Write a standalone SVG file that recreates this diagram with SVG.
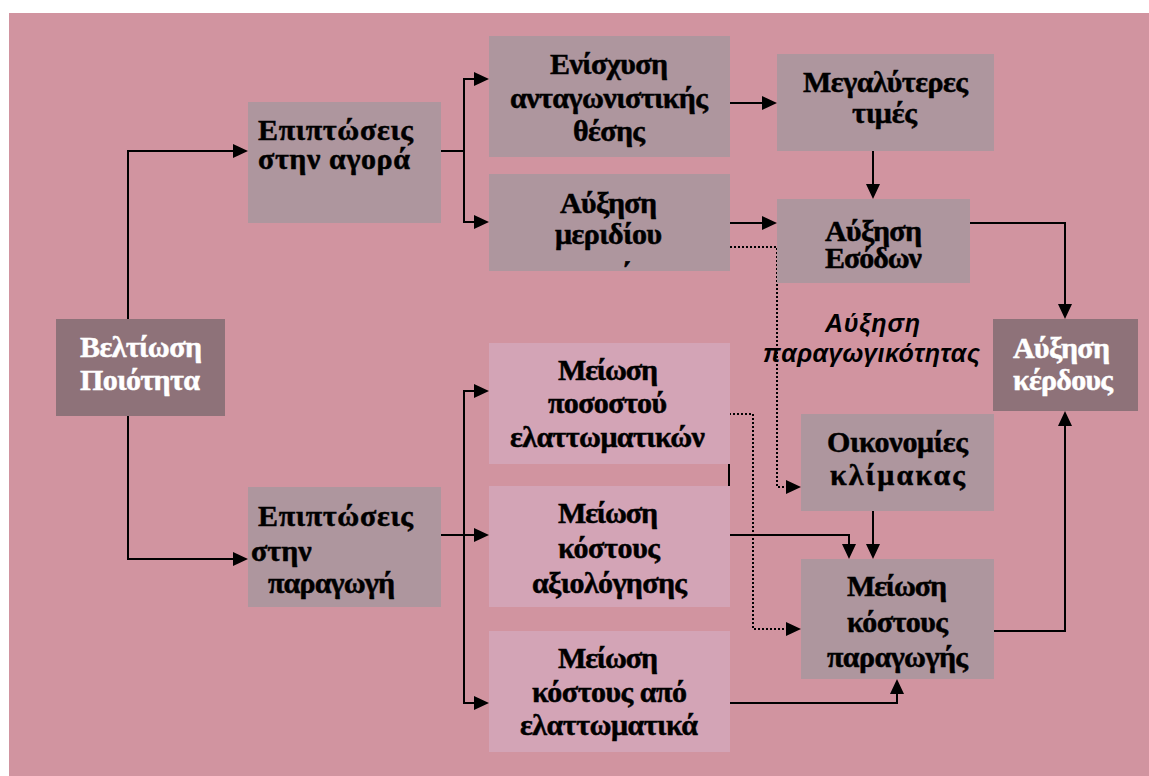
<svg xmlns="http://www.w3.org/2000/svg" width="1149" height="776" viewBox="0 0 1149 776">
  <defs>
    <marker id="arrow" viewBox="0 0 15 14" refX="5" refY="7" markerWidth="15" markerHeight="14" markerUnits="userSpaceOnUse" orient="auto">
      <path d="M0,0 L15,7 L0,14 z" fill="#000"/>
    </marker>
    <style>
      .box-gray { fill: #AE969E; }
      .box-dark { fill: #8E7279; }
      .box-light { fill: #D3A4B6; }
      .t { font-family: "Liberation Serif", "Times New Roman", serif; font-weight: bold; font-size: 30px; fill: #000; stroke: #000; stroke-width: 0.5px; }
      .tw { font-family: "Liberation Serif", "Times New Roman", serif; font-weight: bold; font-size: 30px; fill: #fff; stroke: #fff; stroke-width: 0.5px; }
      .lbl { font-family: "Liberation Sans", Arial, sans-serif; font-weight: bold; font-style: italic; font-size: 25px; fill: #000; }
      .ln { fill: none; stroke: #000; stroke-width: 2; }
      .dot { fill: none; stroke: #000; stroke-width: 2; stroke-dasharray: 2 2; }
    </style>
  </defs>

  <rect x="0" y="0" width="1149" height="776" fill="#fff"/>
  <rect x="9" y="13" width="1140" height="763" fill="#D194A0"/>

  <!-- connectors -->
  <g id="connectors">
    <path class="ln" d="M128,319 V151 H238" marker-end="url(#arrow)"/>
    <path class="ln" d="M128,416 V559 H238" marker-end="url(#arrow)"/>

    <path class="ln" d="M441,151 H464 V79 H479" marker-end="url(#arrow)"/>
    <path class="ln" d="M464,151 V222 H479" marker-end="url(#arrow)"/>

    <path class="ln" d="M730,103 H767" marker-end="url(#arrow)"/>
    <path class="ln" d="M730,223 H767" marker-end="url(#arrow)"/>
    <path class="dot" d="M730,247 H777 V487 H791" marker-end="url(#arrow)"/>

    <path class="ln" d="M873,151 V189" marker-end="url(#arrow)"/>
    <path class="ln" d="M970,223 H1065 V309" marker-end="url(#arrow)"/>

    <path class="ln" d="M441,535 H479" marker-end="url(#arrow)"/>
    <path class="ln" d="M464,535 V391 H479" marker-end="url(#arrow)"/>
    <path class="ln" d="M464,535 V703 H479" marker-end="url(#arrow)"/>

    <path class="ln" d="M729,414 V583"/>
    <path class="ln" d="M729,535 H849 V549" marker-end="url(#arrow)"/>
    <path class="dot" d="M729,414 H753 V629 H791" marker-end="url(#arrow)"/>

    <path class="ln" d="M873,511 V549" marker-end="url(#arrow)"/>
    <path class="ln" d="M730,703 H897 V689" marker-end="url(#arrow)"/>
    <path class="ln" d="M994,631 H1065 V421" marker-end="url(#arrow)"/>
  </g>

  <g id="quality">
    <rect class="box-dark" x="56" y="319" width="169" height="97"/>
    <text class="tw" x="80" y="357" textLength="122">Βελτίωση</text>
    <text class="tw" x="80" y="390" textLength="120">Ποιότητα</text>
  </g>

  <g id="market">
    <rect class="box-gray" x="248" y="102" width="193" height="121"/>
    <text class="t" x="258" y="140" textLength="155">Επιπτώσεις</text>
    <text class="t" x="258" y="169" textLength="152">στην αγορά</text>
  </g>

  <g id="production">
    <rect class="box-gray" x="248" y="487" width="193" height="120"/>
    <text class="t" x="258" y="526" textLength="155">Επιπτώσεις</text>
    <text class="t" x="251" y="561">στην</text>
    <text class="t" x="268" y="593" textLength="127">παραγωγή</text>
  </g>

  <g id="competitive">
    <rect class="box-gray" x="489" y="36" width="241" height="121"/>
    <text class="t" x="550" y="74" textLength="118">Ενίσχυση</text>
    <text class="t" x="510" y="108" textLength="198">ανταγωνιστικής</text>
    <text class="t" x="573" y="141" textLength="72">θέσης</text>
  </g>

  <g id="share">
    <rect class="box-gray" x="489" y="174" width="241" height="97"/>
    <text class="t" x="560" y="213" textLength="97">Αύξηση</text>
    <text class="t" x="555" y="244" textLength="107">μεριδίου</text>
    <text class="t" x="621" y="283">΄</text>
  </g>

  <g id="prices">
    <rect class="box-gray" x="777" y="54" width="217" height="97"/>
    <text class="t" x="803" y="92" textLength="165">Μεγαλύτερες</text>
    <text class="t" x="852" y="123" textLength="65">τιμές</text>
  </g>

  <g id="revenue">
    <rect class="box-gray" x="777" y="199" width="193" height="84"/>
    <text class="t" x="825" y="241" textLength="97">Αύξηση</text>
    <text class="t" x="825" y="268" textLength="97">Εσόδων</text>
  </g>

  <g id="productivity-label">
    <text class="lbl" x="825" y="332" textLength="95">Αύξηση</text>
    <text class="lbl" x="763" y="362" textLength="217">παραγωγικότητας</text>
  </g>

  <g id="profit">
    <rect class="box-dark" x="993" y="319" width="145" height="92"/>
    <text class="tw" x="1013" y="358" textLength="97">Αύξηση</text>
    <text class="tw" x="1013" y="390" textLength="100">κέρδους</text>
  </g>

  <g id="scale">
    <rect class="box-gray" x="801" y="414" width="193" height="97"/>
    <text class="t" x="827" y="452" textLength="141">Οικονομίες</text>
    <text class="t" x="830" y="485" textLength="135">κλίμακας</text>
  </g>

  <g id="production-cost">
    <rect class="box-gray" x="801" y="559" width="193" height="120"/>
    <text class="t" x="847" y="596" textLength="100">Μείωση</text>
    <text class="t" x="847" y="632" textLength="101">κόστους</text>
    <text class="t" x="827" y="667" textLength="141">παραγωγής</text>
  </g>

  <g id="defect-rate">
    <rect class="box-light" x="489" y="343" width="241" height="121"/>
    <text class="t" x="558" y="380" textLength="100">Μείωση</text>
    <text class="t" x="548" y="413" textLength="119">ποσοστού</text>
    <text class="t" x="510" y="447" textLength="195">ελαττωματικών</text>
  </g>

  <g id="appraisal-cost">
    <rect class="box-light" x="489" y="486" width="241" height="121"/>
    <text class="t" x="558" y="523" textLength="100">Μείωση</text>
    <text class="t" x="558" y="558" textLength="102">κόστους</text>
    <text class="t" x="532" y="593" textLength="155">αξιολόγησης</text>
  </g>

  <g id="defect-cost">
    <rect class="box-light" x="489" y="631" width="241" height="121"/>
    <text class="t" x="558" y="668" textLength="100">Μείωση</text>
    <text class="t" x="532" y="702" textLength="155">κόστους από</text>
    <text class="t" x="520" y="735" textLength="178">ελαττωματικά</text>
  </g>
</svg>
